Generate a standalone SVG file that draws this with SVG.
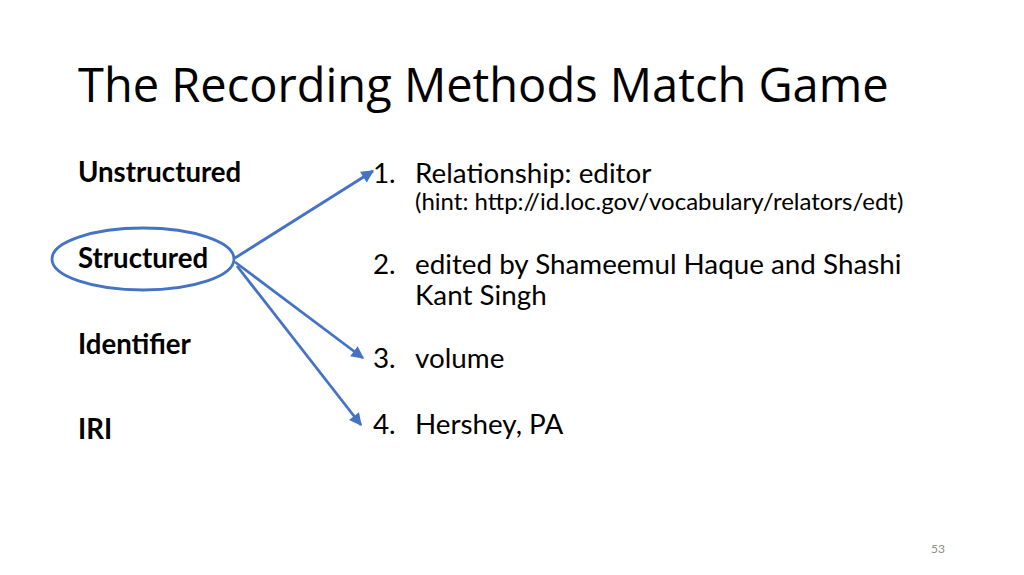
<svg xmlns="http://www.w3.org/2000/svg" width="1024" height="575" viewBox="0 0 1024 575">
<style>
.title{font-family:"Open Sans","Noto Sans",sans-serif;font-size:47px;fill:#000}
.lbl{font-family:Lato,"Liberation Sans",sans-serif;font-weight:bold;font-size:27.6px;fill:#000}
.item{font-family:Lato,"Liberation Sans",sans-serif;font-size:27.8px;fill:#000}
.hint{font-family:Lato,"Liberation Sans",sans-serif;font-size:24px;fill:#000}
.conn{stroke:#4472C4;stroke-width:2.8;fill:none;marker-end:url(#ah)}
</style>
<defs>
<marker id="ah" viewBox="0 0 10 10" refX="9" refY="5" markerWidth="5.5" markerHeight="4.5" orient="auto" markerUnits="strokeWidth">
<path d="M0,0 L10,5 L0,10 z" fill="#4472C4"/>
</marker>
</defs>
<rect width="1024" height="575" fill="#fff"/>
<text class="title" x="78" y="102">The Recording Methods Match Game</text>
<g id="unstructured"><text class="lbl" x="78" y="182">Unstructured</text></g>
<g id="structured">
<ellipse cx="143" cy="259" rx="91" ry="31" fill="none" stroke="#4472C4" stroke-width="2.8"/>
<text class="lbl" x="78" y="268">Structured</text>
</g>
<g id="identifier"><text class="lbl" x="78" y="354">Identifier</text></g>
<g id="iri"><text class="lbl" x="78" y="439">IRI</text></g>
<g id="item1">
<text class="item" x="373" y="183">1.</text>
<text class="item" x="415" y="183">Relationship: editor</text>
<text class="hint" x="415" y="210">(hint: http://id.loc.gov/vocabulary/relators/edt)</text>
</g>
<g id="item2">
<text class="item" x="373" y="274">2.</text>
<text class="item" x="415" y="274">edited by Shameemul Haque and Shashi</text>
<text class="item" x="415" y="305">Kant Singh</text>
</g>
<g id="item3">
<text class="item" x="373" y="368">3.</text>
<text class="item" x="415" y="368">volume</text>
</g>
<g id="item4">
<text class="item" x="373" y="434">4.</text>
<text class="item" x="415" y="434">Hershey, PA</text>
</g>
<g id="connectors">
<line class="conn" x1="235" y1="258" x2="373" y2="171"/>
<line class="conn" x1="235" y1="262" x2="363" y2="358"/>
<line class="conn" x1="237" y1="266" x2="361" y2="425"/>
</g>
<text x="938" y="553" font-family="Lato,'Liberation Sans',sans-serif" font-size="12" fill="#8c8c8c" text-anchor="middle">53</text>
</svg>
